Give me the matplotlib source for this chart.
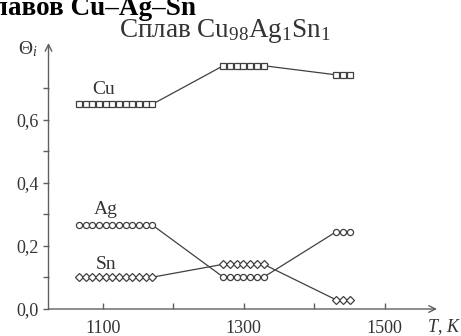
import matplotlib
matplotlib.use("Agg")
import matplotlib.pyplot as plt

plt.rcParams['font.family'] = ['Liberation Serif', 'DejaVu Serif']
plt.rcParams['mathtext.fontset'] = 'custom'
plt.rcParams['mathtext.rm'] = 'Liberation Serif'
plt.rcParams['mathtext.it'] = 'Liberation Serif:italic'

# Temperatures (K) of the plotted points, three groups
T = [1066, 1075.5, 1085, 1094.5, 1104, 1113.5, 1123, 1132.5, 1142, 1151.5, 1161, 1170.5,
     1271, 1280.5, 1290, 1299.5, 1309, 1318.5, 1328,
     1431, 1440.5, 1450]
group_sizes = [12, 7, 3]
cu_levels = [0.650, 0.772, 0.743]
ag_levels = [0.266, 0.101, 0.245]
sn_levels = [0.101, 0.142, 0.029]

def expand(levels):
    out = []
    for v, n in zip(levels, group_sizes):
        out += [v] * n
    return out

cu = expand(cu_levels)
ag = expand(ag_levels)
sn = expand(sn_levels)

yticks = [0.0, 0.2, 0.4, 0.6]
yticklabels = ["0,0", "0,2", "0,4", "0,6"]
yminor = [0.1, 0.3, 0.5, 0.7]
xticks = [1100, 1300, 1500]
xticklabels = ["1100", "1300", "1500"]
xminor = [1200, 1400]

W, H = 461, 336
fig = plt.figure(figsize=(W / 100, H / 100), dpi=100)
L, R, TOP, BOT = 48.5, 437, 43, 309
ax = fig.add_axes([L / W, (H - BOT) / H, (R - L) / W, (BOT - TOP) / H])
ax.set_xlim(1023, 1574)
ax.set_ylim(0, 0.844)

col = '#404040'
ms = 4.4
ax.plot(T, cu, color=col, lw=0.9, marker='s', ms=ms, mfc='white', mec=col, mew=0.9)
ax.plot(T, ag, color=col, lw=0.9, marker='o', ms=ms, mfc='white', mec=col, mew=0.9)
ax.plot(T, sn, color=col, lw=0.9, marker='D', ms=ms, mfc='white', mec=col, mew=0.9)

for s in ['top', 'right', 'left', 'bottom']:
    ax.spines[s].set_visible(False)

axcol = '#606060'
ax.annotate('', xy=(0, 1), xytext=(0, 0), xycoords='axes fraction',
            arrowprops=dict(arrowstyle='->', color=axcol, lw=1.0, shrinkA=0, shrinkB=0,
                            mutation_scale=12))
ax.annotate('', xy=(1, 0), xytext=(0, 0), xycoords='axes fraction',
            arrowprops=dict(arrowstyle='->', color=axcol, lw=1.0, shrinkA=0, shrinkB=0,
                            mutation_scale=12))

ax.set_yticks(yticks)
ax.set_yticklabels(yticklabels)
ax.set_yticks(yminor, minor=True)
ax.set_xticks(xticks)
ax.set_xticklabels(xticklabels)
ax.set_xticks(xminor, minor=True)
ax.tick_params(axis='y', which='both', direction='out', length=4, width=1.0, color=axcol,
               labelsize=13, labelcolor='#333333', pad=3)
ax.tick_params(axis='x', which='both', direction='in', length=4, width=1.0, color=axcol,
               labelsize=13, labelcolor='#333333', pad=8)

tc = '#333333'
ax.text(1101, 0.695, 'Cu', ha='center', va='center', fontsize=14, color=tc)
ax.text(1104, 0.316, 'Ag', ha='center', va='center', fontsize=14, color=tc)
ax.text(1104, 0.141, 'Sn', ha='center', va='center', fontsize=14, color=tc)

fig.text(225 / W, 1 - 37 / H, 'Сплав Cu$_{98}$Ag$_{1}$Sn$_{1}$', ha='center', va='baseline',
         fontsize=19.5, color=tc)
fig.text(28 / W, 1 - 49 / H, 'Θ$_{i}$', ha='center', va='center', fontsize=14, color=tc)
fig.text(444 / W, 1 - 327 / H, '$T$, $K$', ha='center', va='center', fontsize=13, color=tc)
fig.text(196 / W, 1 - 15 / H, 'сплавов Cu–Ag–Sn', ha='right', va='baseline',
         fontsize=19.5, fontweight='bold', color='black')

fig.savefig('out.png', dpi=100)
